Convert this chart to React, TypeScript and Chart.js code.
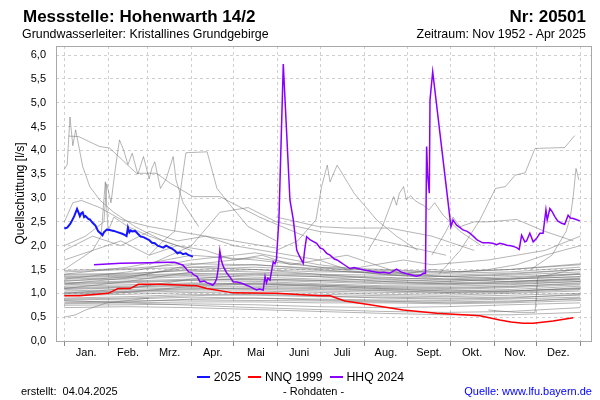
import React, { useEffect, useRef } from "react";
import { Chart, registerables } from "chart.js";

Chart.register(...registerables);

const MONTHS = ["Jan.", "Feb.", "Mrz.", "Apr.", "Mai", "Juni", "Juli", "Aug.", "Sept.", "Okt.", "Nov.", "Dez."];
const MONTH_STARTS = [0, 31, 59, 90, 120, 151, 181, 212, 243, 273, 304, 334, 365];
const Y_TICKS = [0, 0.5, 1, 1.5, 2, 2.5, 3, 3.5, 4, 4.5, 5, 5.5, 6];

// 2025 (blue)
const series2025: [number, number][] = [
  [0, 2.36], [2, 2.38], [4, 2.45], [5, 2.5], [7, 2.62], [9, 2.77], [10, 2.7], [11, 2.62], [12, 2.68], [13, 2.7],
  [14, 2.6], [15, 2.62], [17, 2.56], [18, 2.55], [20, 2.48], [22, 2.42], [24, 2.3], [26, 2.25], [27, 2.22], [28, 2.28],
  [30, 2.34], [32, 2.33], [35, 2.31], [38, 2.28], [41, 2.25], [43, 2.22], [44, 2.2], [45, 2.38], [46, 2.28], [47, 2.32],
  [48, 2.3], [50, 2.31], [52, 2.25], [54, 2.19], [56, 2.18], [58, 2.15], [60, 2.12], [62, 2.06], [64, 2.05], [66, 2.0],
  [68, 1.98], [70, 1.96], [72, 2.0], [74, 1.97], [76, 1.94], [78, 1.9], [80, 1.84], [82, 1.86], [84, 1.82], [86, 1.84],
  [88, 1.8], [90, 1.78], [91, 1.77],
];

// NNQ 1999 (red)
const nnq1999: [number, number][] = [
  [0, 0.95], [11, 0.95], [31, 1.0], [38, 1.1], [46.5, 1.1], [52.3, 1.19], [67.7, 1.19], [93.6, 1.16], [100.7, 1.1],
  [119.5, 1.01], [150.2, 1.0], [181, 0.95], [188, 0.95], [198.5, 0.84], [216.2, 0.76], [239.7, 0.65], [263.4, 0.58],
  [294, 0.53], [308, 0.44], [316, 0.4], [324.6, 0.37], [331.7, 0.37], [345.8, 0.42], [360, 0.49],
];

// HHQ 2024 (purple)
const hhq2024: [number, number][] = [
  [21, 1.6], [40, 1.63], [60, 1.64], [74, 1.65], [78, 1.65], [81, 1.62], [84, 1.59], [86, 1.52], [88, 1.45], [90, 1.44],
  [91, 1.4], [94, 1.35], [96, 1.24], [99, 1.26], [101, 1.22], [103, 1.2], [105, 1.17], [106.5, 1.22], [107.8, 1.31],
  [109, 1.55], [110, 1.89], [111, 1.7], [112.5, 1.56], [115, 1.42], [117, 1.35], [119.5, 1.24], [122, 1.24],
  [125.5, 1.21], [128, 1.18], [131.3, 1.14], [134, 1.1], [136, 1.07], [138, 1.09], [140.7, 1.07], [141.5, 1.25],
  [142, 1.35], [143, 1.22], [144, 1.32], [145.5, 1.28], [146.5, 1.45], [147.8, 1.66], [149, 1.62], [150, 1.7],
  [151.8, 2.54], [154.9, 5.81], [156, 5.14], [159.6, 2.96], [162, 2.54], [164.4, 1.91], [166, 1.8], [169, 1.63],
  [170, 1.9], [171.4, 2.19], [174, 2.12], [178.5, 2.05], [181, 1.95], [183, 1.93], [185.6, 1.84], [188, 1.8],
  [191, 1.72], [193, 1.7], [195, 1.66], [198, 1.6], [202, 1.52], [205, 1.54], [209, 1.51], [212, 1.49], [216, 1.47],
  [220, 1.45], [223, 1.43], [226, 1.44], [230, 1.42], [233, 1.47], [235, 1.51], [238, 1.45], [242, 1.41], [245, 1.39],
  [249, 1.36], [252, 1.38], [254, 1.42], [255.5, 1.42], [256.3, 4.08], [257, 3.5], [258.2, 3.1], [258.7, 5.06],
  [260.6, 5.65], [272.8, 2.58], [273.5, 2.4], [275, 2.54], [277.5, 2.43], [280, 2.38], [282, 2.33], [285, 2.3],
  [287, 2.26], [290, 2.18], [292, 2.12], [296, 2.06], [300, 2.06], [303, 2.05], [306, 2.02], [308, 2.05], [311, 2.03],
  [313, 2.01], [316, 2.0], [318, 1.98], [320, 1.96], [321.8, 1.92], [323.5, 2.22], [325.8, 2.08], [327, 2.1],
  [329.3, 2.26], [331.7, 2.08], [334, 2.15], [336.4, 2.26], [338.7, 2.26], [340.7, 2.75], [341.6, 2.54], [343.5, 2.78],
  [345, 2.72], [347, 2.61], [349, 2.52], [351.8, 2.47], [354, 2.45], [356.4, 2.64], [358, 2.58], [360, 2.57],
  [362, 2.55], [364.7, 2.52],
];

// Historical years (grey), smooth band years sampled on common days
const BAND_DAYS = [0, 45, 90, 135, 180, 225, 270, 315, 365];
const bandYears: number[][] = [
  [1.45, 1.5, 1.55, 1.5, 1.45, 1.45, 1.42, 1.45, 1.55],
  [1.4, 1.42, 1.48, 1.45, 1.4, 1.38, 1.35, 1.38, 1.45],
  [1.35, 1.38, 1.42, 1.38, 1.35, 1.32, 1.3, 1.35, 1.4],
  [1.3, 1.33, 1.38, 1.34, 1.3, 1.28, 1.25, 1.3, 1.35],
  [1.27, 1.3, 1.35, 1.3, 1.27, 1.25, 1.22, 1.25, 1.32],
  [1.22, 1.26, 1.3, 1.28, 1.24, 1.2, 1.18, 1.22, 1.28],
  [1.18, 1.22, 1.27, 1.25, 1.2, 1.16, 1.15, 1.18, 1.25],
  [1.15, 1.18, 1.22, 1.2, 1.17, 1.14, 1.12, 1.15, 1.2],
  [1.12, 1.15, 1.2, 1.18, 1.15, 1.1, 1.08, 1.12, 1.18],
  [1.08, 1.12, 1.15, 1.15, 1.12, 1.08, 1.05, 1.08, 1.15],
  [1.05, 1.08, 1.12, 1.1, 1.08, 1.05, 1.02, 1.05, 1.1],
  [1.02, 1.05, 1.1, 1.08, 1.05, 1.02, 1.0, 1.02, 1.08],
  [0.98, 1.02, 1.05, 1.05, 1.02, 0.98, 0.96, 1.0, 1.05],
  [0.95, 0.98, 1.02, 1.0, 0.98, 0.95, 0.93, 0.96, 1.0],
  [0.9, 0.93, 0.98, 0.96, 0.93, 0.92, 0.9, 0.92, 0.96],
  [0.86, 0.88, 0.92, 0.9, 0.88, 0.86, 0.85, 0.88, 0.92],
  [0.82, 0.84, 0.86, 0.85, 0.84, 0.82, 0.82, 0.84, 0.88],
  [0.78, 0.8, 0.82, 0.82, 0.8, 0.8, 0.78, 0.8, 0.85],
  [0.75, 0.76, 0.78, 0.76, 0.72, 0.7, 0.72, 0.76, 0.8],
  [1.25, 1.35, 1.55, 1.6, 1.5, 1.4, 1.35, 1.4, 1.5],
  [1.1, 1.25, 1.45, 1.5, 1.4, 1.3, 1.25, 1.3, 1.4],
  [0.7, 0.72, 0.7, 0.66, 0.62, 0.58, 0.55, 0.55, 0.6],
  [0.85, 0.8, 0.75, 0.7, 0.66, 0.62, 0.6, 0.62, 0.7],
  [1.2, 1.32, 1.6, 1.75, 1.55, 1.4, 1.3, 1.25, 1.3],
  [1.3, 1.45, 1.7, 1.85, 1.6, 1.45, 1.35, 1.3, 1.35],
  [1.4, 1.55, 1.8, 1.7, 1.55, 1.5, 1.45, 1.5, 1.6],
  [1.0, 1.1, 1.3, 1.4, 1.35, 1.25, 1.2, 1.2, 1.25],
  [0.95, 1.02, 1.15, 1.2, 1.15, 1.1, 1.05, 1.05, 1.1],
  [1.33, 1.36, 1.4, 1.42, 1.38, 1.34, 1.28, 1.32, 1.42],
  [1.2, 1.24, 1.28, 1.3, 1.27, 1.22, 1.2, 1.24, 1.3],
  [1.1, 1.13, 1.18, 1.22, 1.18, 1.12, 1.1, 1.14, 1.22],
  [0.88, 0.9, 0.95, 0.98, 0.95, 0.9, 0.88, 0.9, 0.98],
  [1.38, 1.4, 1.5, 1.55, 1.48, 1.42, 1.38, 1.42, 1.5],
  [0.8, 0.82, 0.88, 0.9, 0.86, 0.84, 0.8, 0.82, 0.9],
  [1.0, 1.04, 1.08, 1.12, 1.1, 1.06, 1.02, 1.04, 1.12],
  [1.48, 1.52, 1.62, 1.6, 1.52, 1.48, 1.44, 1.5, 1.62],
];

// Historical years (grey), irregular ones
const irregularYears: [number, number][][] = [
  [[0, 3.6], [2, 3.7], [4, 4.7], [6, 4.1], [8, 4.43], [13, 3.66], [18, 3.24], [25, 2.96], [35, 2.7], [50, 2.4], [70, 2.1], [90, 1.9]],
  [[3, 4.3], [10, 4.29], [25, 4.08], [32, 4.05], [51, 3.52], [65, 3.52], [75, 3.31], [91, 3.03], [110, 3.03], [138, 2.6], [170, 2.2]],
  [[0, 2.0], [15, 2.2], [28, 2.5], [30, 3.3], [33, 2.9], [36, 3.6], [39, 4.22], [42, 4.0], [45, 3.7], [48, 3.94], [52, 3.5],
    [56, 3.87], [60, 3.4], [62, 3.63], [64, 3.76], [68, 3.2], [72, 3.4], [77, 3.87], [79, 3.38], [84, 2.9], [95, 2.4]],
  [[60, 1.8], [70, 2.1], [78, 2.3], [86, 3.95], [101, 3.97], [108, 3.2], [116, 2.9], [130, 2.4], [150, 2.1]],
  [[150, 1.9], [165, 2.1], [178, 2.54], [182, 3.24], [186, 3.69], [188, 3.34], [193, 3.69], [205, 3.1], [221, 2.54], [235, 2.2], [250, 1.9]],
  [[215, 1.9], [225, 2.4], [233, 3.03], [235, 2.85], [237, 3.1], [240, 3.24], [242, 2.96], [245, 3.05], [248, 2.95], [251, 2.89],
    [254, 2.85], [258, 2.75], [262, 2.9], [268, 2.64], [280, 2.3], [295, 2.0]],
  [[265, 1.4], [280, 1.9], [294, 2.54], [305, 3.2], [312, 3.24], [319, 3.48], [326, 3.53], [333, 4.04], [354, 4.06], [361, 4.31]],
  [[330, 1.5], [345, 1.8], [355, 2.3], [358, 2.6], [360, 3.03], [362, 3.62], [364, 3.38]],
  [[0, 1.5], [10, 1.7], [20, 1.9], [26, 2.2], [29, 3.34], [31, 2.3], [35, 2.6], [45, 2.4], [60, 2.2], [80, 2.0]],
  [[0, 2.5], [6, 2.9], [12, 2.95], [25, 2.8], [40, 2.55], [60, 2.4], [90, 2.25], [120, 2.1], [150, 1.95]],
  [[60, 1.6], [90, 2.0], [110, 2.7], [130, 2.8], [150, 2.5], [180, 2.3], [210, 2.2], [240, 2.0], [270, 1.8]],
  [[150, 2.6], [180, 2.4], [200, 2.37], [230, 2.37], [260, 2.2], [290, 1.9]],
  [[260, 1.8], [270, 2.3], [275, 2.6], [280, 2.4], [290, 2.5], [300, 2.5], [320, 2.55], [340, 2.3], [360, 2.1]],
  [[0, 0.5], [8, 0.55], [15, 0.65], [30, 0.8], [45, 0.85], [60, 0.9]],
  [[300, 0.65], [320, 0.6], [333, 0.6], [335, 1.35], [345, 1.4], [360, 1.5]],
  [[0, 1.7], [20, 1.9], [40, 2.1], [60, 1.8], [80, 2.0], [100, 1.9], [120, 1.7], [140, 1.8], [160, 1.6], [180, 1.7],
    [200, 1.5], [220, 1.6], [240, 1.4], [260, 1.5], [280, 1.45], [300, 1.5], [320, 1.6], [340, 1.8], [365, 2.0]],
  [[0, 1.9], [20, 2.2], [40, 2.0], [60, 2.3], [80, 2.1], [100, 2.2], [120, 2.0], [140, 1.9], [160, 1.8], [180, 1.7],
    [200, 1.8], [220, 1.6], [240, 1.7], [260, 1.6], [280, 1.65], [300, 1.7], [320, 1.8], [340, 1.9], [365, 2.2]],
];

const FONT = '"Liberation Sans", Arial, sans-serif';
const GREY = "rgba(100,100,100,0.48)";

const toXY = (pts: [number, number][]) => pts.map(([x, y]) => ({ x, y }));

const framePlugin = {
  id: "frameAndMonths",
  afterDraw(chart: any) {
    const { ctx, chartArea } = chart;
    const xs = chart.scales.x;
    ctx.save();
    ctx.strokeStyle = "#a8a8a8";
    ctx.lineWidth = 1;
    ctx.strokeRect(chartArea.left + 0.5, chartArea.top + 0.5, chartArea.right - chartArea.left - 1, chartArea.bottom - chartArea.top);
    ctx.font = `11px ${FONT}`;
    ctx.fillStyle = "#000";
    ctx.textAlign = "center";
    ctx.textBaseline = "middle";
    MONTHS.forEach((m, i) => {
      const mid = (MONTH_STARTS[i] + MONTH_STARTS[i + 1]) / 2;
      ctx.fillText(m, xs.getPixelForValue(mid), chartArea.bottom + 12);
    });
    ctx.restore();
  },
};

export default function App() {
  const canvasRef = useRef<HTMLCanvasElement | null>(null);

  useEffect(() => {
    if (!canvasRef.current) return;
    Chart.defaults.font.family = FONT;
    const datasets: any[] = [];
    datasets.push({ label: "2025", data: toXY(series2025), borderColor: "#1515ff", borderWidth: 2, order: 0 });
    datasets.push({ label: "HHQ 2024", data: toXY(hhq2024), borderColor: "#8a00ff", borderWidth: 1.5, order: 1 });
    datasets.push({ label: "NNQ 1999", data: toXY(nnq1999), borderColor: "#ff0000", borderWidth: 1.5, order: 2 });
    bandYears.forEach((vals, i) => {
      datasets.push({ label: `band${i}`, data: vals.map((v, j) => ({ x: BAND_DAYS[j], y: v })), borderColor: GREY, borderWidth: 1, order: 10 });
    });
    irregularYears.forEach((pts, i) => {
      datasets.push({ label: `irr${i}`, data: toXY(pts), borderColor: GREY, borderWidth: 1, order: 10 });
    });
    datasets.forEach((d) => {
      d.pointRadius = 0;
      d.tension = 0;
      d.fill = false;
    });

    const chart = new Chart(canvasRef.current, {
      type: "line",
      data: { datasets },
      plugins: [framePlugin],
      options: {
        animation: false,
        responsive: false,
        devicePixelRatio: 1,
        layout: { padding: { top: 46, right: 8, bottom: 0, left: 0 } },
        plugins: { legend: { display: false }, tooltip: { enabled: false } },
        scales: {
          x: {
            type: "linear",
            min: -5.9,
            max: 373.3,
            border: { display: false, dash: [3, 3] },
            grid: { color: "#d0d0d0", drawTicks: true, tickLength: 5, tickColor: "#888" } as any,
            ticks: { callback: () => "" },
            afterBuildTicks: (axis: any) => {
              axis.ticks = MONTH_STARTS.map((v) => ({ value: v }));
            },
            afterFit: (axis: any) => {
              axis.height = 59;
            },
          } as any,
          y: {
            type: "linear",
            min: 0,
            max: 6.19,
            border: { display: false, dash: [3, 3] },
            grid: { color: "#d0d0d0", drawTicks: false } as any,
            ticks: {
              padding: 10,
              color: "#000",
              font: { size: 11, family: FONT },
              callback: (v: any) => Number(v).toFixed(1).replace(".", ","),
            },
            afterBuildTicks: (axis: any) => {
              axis.ticks = Y_TICKS.map((v) => ({ value: v }));
            },
            afterFit: (axis: any) => {
              axis.width = 56;
            },
            title: {
              display: true,
              text: "Quellschüttung [l/s]",
              color: "#000",
              font: { size: 12, family: FONT },
              padding: { top: 13, bottom: 0 },
            },
          } as any,
        },
      },
    });
    return () => chart.destroy();
  }, []);

  const legendItem = (color: string, text: string) => (
    <span style={{ display: "inline-flex", alignItems: "center", marginRight: 7 }}>
      <span style={{ display: "inline-block", width: 13, height: 2, background: color, marginRight: 4 }} />
      <span>{text}</span>
    </span>
  );

  return (
    <div style={{ position: "fixed", left: 0, top: 0, width: 600, height: 400, background: "#fff", fontFamily: FONT, color: "#000" }}>
      <canvas ref={canvasRef} width={600} height={400} style={{ position: "absolute", left: 0, top: 0, width: 600, height: 400 }} />
      <div style={{ position: "absolute", left: 23, top: 6, fontSize: 17, fontWeight: "bold", lineHeight: "22px", whiteSpace: "nowrap" }}>Messstelle: Hohenwarth 14/2</div>
      <div style={{ position: "absolute", right: 14, top: 6, fontSize: 17, fontWeight: "bold", lineHeight: "22px", whiteSpace: "nowrap" }}>Nr: 20501</div>
      <div style={{ position: "absolute", left: 22, top: 27, fontSize: 12.4, lineHeight: "14px", whiteSpace: "nowrap" }}>Grundwasserleiter: Kristallines Grundgebirge</div>
      <div style={{ position: "absolute", right: 14, top: 27, fontSize: 12.4, lineHeight: "14px", whiteSpace: "nowrap" }}>Zeitraum: Nov 1952 - Apr 2025</div>
      <div style={{ position: "absolute", left: 0, width: 600, top: 367, fontSize: 12.2, lineHeight: "14px", display: "flex", justifyContent: "center", whiteSpace: "nowrap" }}>
        <div style={{ marginLeft: 8 }}>
          {legendItem("#1515ff", "2025")}
          {legendItem("#ff0000", "NNQ 1999")}
          {legendItem("#8a00ff", "HHQ 2024")}
        </div>
      </div>
      <div style={{ position: "absolute", left: 21, top: 384, fontSize: 11, lineHeight: "14px", whiteSpace: "pre" }}>{"erstellt:  04.04.2025"}</div>
      <div style={{ position: "absolute", left: 283, top: 384, fontSize: 11, lineHeight: "14px", whiteSpace: "nowrap" }}>- Rohdaten -</div>
      <div style={{ position: "absolute", right: 8, top: 384, fontSize: 11, lineHeight: "14px", color: "#0000ff", whiteSpace: "nowrap" }}>Quelle: www.lfu.bayern.de</div>
    </div>
  );
}
